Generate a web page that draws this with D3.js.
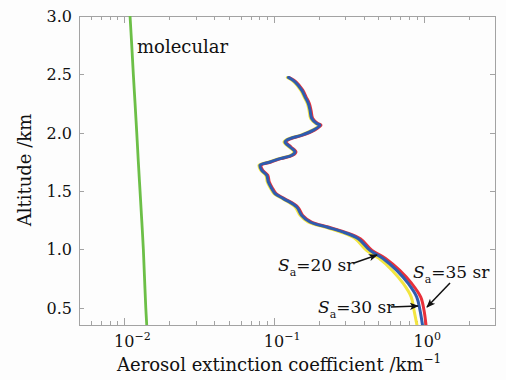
<!DOCTYPE html>
<html>
<head>
<meta charset="utf-8">
<script src="https://cdn.jsdelivr.net/npm/d3@7/dist/d3.min.js"></script>
<style>
  html, body { margin: 0; padding: 0; background: #fdfdfd; }
  svg { display: block; }
  text { font-family: "DejaVu Serif", serif; fill: #111; }
</style>
</head>
<body>
<svg id="chart" width="506" height="380"></svg>
<script>
// Altitude grid (km) shared by the three aerosol retrievals
const altitude = [2.473, 2.436, 2.364, 2.307, 2.250, 2.192, 2.121, 2.078, 2.064, 2.021,
                  1.978, 1.949, 1.920, 1.877, 1.834, 1.806, 1.777, 1.748, 1.720, 1.677,
                  1.634, 1.576, 1.520, 1.477, 1.434, 1.362, 1.290, 1.233, 1.190, 1.147,
                  1.090, 0.990, 0.921, 0.818, 0.704, 0.589, 0.474, 0.345];

// Aerosol extinction coefficient (km^-1) for lidar ratios Sa = 20, 30, 35 sr
const sa20 = [0.1231, 0.1364, 0.1513, 0.1592, 0.1675, 0.1719, 0.1764, 0.1905, 0.2004, 0.1808,
              0.1513, 0.1264, 0.1170, 0.1264, 0.1364, 0.1297, 0.1084, 0.0929, 0.0797, 0.0818,
              0.0884, 0.0905, 0.0953, 0.1004, 0.1140, 0.1389, 0.1501, 0.1692, 0.2189, 0.2802,
              0.3504, 0.4161, 0.5044, 0.6180, 0.7333, 0.8278, 0.8641, 0.9049];
const sa30 = [0.1250, 0.1385, 0.1536, 0.1616, 0.1700, 0.1745, 0.1791, 0.1934, 0.2035, 0.1836,
              0.1536, 0.1283, 0.1188, 0.1283, 0.1385, 0.1317, 0.1100, 0.0943, 0.0809, 0.0830,
              0.0897, 0.0919, 0.0968, 0.1019, 0.1157, 0.1422, 0.1536, 0.1745, 0.2257, 0.2912,
              0.3669, 0.4391, 0.5364, 0.6622, 0.7918, 0.9008, 0.9475, 0.9847];
const sa35 = [0.1269, 0.1406, 0.1560, 0.1641, 0.1726, 0.1772, 0.1819, 0.1964, 0.2067, 0.1864,
              0.1560, 0.1303, 0.1206, 0.1303, 0.1406, 0.1337, 0.1117, 0.0958, 0.0822, 0.0843,
              0.0911, 0.0933, 0.0983, 0.1035, 0.1175, 0.1444, 0.1560, 0.1786, 0.2310, 0.2980,
              0.3783, 0.4527, 0.5574, 0.6933, 0.8356, 0.9579, 1.0076, 1.0391];

// Molecular extinction profile
const molAltitude = [0.35, 0.50, 0.75, 1.00, 1.25, 1.50, 1.75, 2.00, 2.25, 2.50, 2.75, 3.00];
const molExtinction = [0.01417, 0.01396, 0.01370, 0.01345, 0.01312, 0.01278, 0.01245,
                       0.01215, 0.01184, 0.01153, 0.01125, 0.01096];

// Axis ticks
const yTicks = [0.5, 1.0, 1.5, 2.0, 2.5, 3.0];
const xMajorTicks = [0.01, 0.1, 1];
const xMajorExponents = ["−2", "−1", "0"];
const xMinorTicks = [0.005, 0.006, 0.007, 0.008, 0.009,
                     0.02, 0.03, 0.04, 0.05, 0.06, 0.07, 0.08, 0.09,
                     0.2, 0.3, 0.4, 0.5, 0.6, 0.7, 0.8, 0.9, 2, 3];

const seriesList = [
  { name: "Sa20", values: sa20, color: "#f2e540" },
  { name: "Sa35", values: sa35, color: "#e8303a" },
  { name: "Sa30", values: sa30, color: "#2f5cae" }
];

const svg = d3.select("#chart");
const box = { left: 79, right: 495, top: 16, bottom: 325 };

const x = d3.scaleLog().domain([0.005, 3]).range([box.left, box.right]);
const y = d3.scaleLinear().domain([0.35, 3.0]).range([box.bottom, box.top]);

const defs = svg.append("defs");
defs.append("clipPath").attr("id", "plotClip")
  .append("rect").attr("x", box.left).attr("y", box.top)
  .attr("width", box.right - box.left).attr("height", box.bottom - box.top);

defs.append("marker")
  .attr("id", "arrowHead").attr("viewBox", "0 0 10 10")
  .attr("refX", 9).attr("refY", 5)
  .attr("markerWidth", 9).attr("markerHeight", 9)
  .attr("markerUnits", "userSpaceOnUse")
  .attr("orient", "auto")
  .append("path").attr("d", "M0,1 L10,5 L0,9 L2.5,5 Z").attr("fill", "#111");

const frameColor = "#a3a3a3";

// Frame with inward ticks on all four sides
const axisG = svg.append("g");
axisG.append("rect").attr("x", box.left + 0.5).attr("y", box.top + 0.5)
  .attr("width", box.right - box.left).attr("height", box.bottom - box.top)
  .attr("fill", "none").attr("stroke", frameColor).attr("stroke-width", 1);

const tickPath = (x1, y1, x2, y2) =>
  axisG.append("line").attr("x1", x1).attr("y1", y1).attr("x2", x2).attr("y2", y2)
    .attr("stroke", frameColor).attr("stroke-width", 1);

xMinorTicks.forEach(t => {
  const px = Math.round(x(t)) + 0.5;
  tickPath(px, box.bottom, px, box.bottom - 4);
  tickPath(px, box.top, px, box.top + 4);
});
xMajorTicks.forEach(t => {
  const px = Math.round(x(t)) + 0.5;
  tickPath(px, box.bottom, px, box.bottom - 7);
  tickPath(px, box.top, px, box.top + 7);
});
yTicks.forEach(t => {
  const py = Math.round(y(t)) + 0.5;
  tickPath(box.left, py, box.left + 5, py);
  tickPath(box.right, py, box.right - 5, py);
});

// Y tick labels
svg.append("g").selectAll("text").data(yTicks).join("text")
  .attr("x", 72).attr("y", d => y(d) + 6)
  .attr("text-anchor", "end").attr("font-size", 16)
  .text(d3.format(".1f"));

// X tick labels as powers of ten
const xLab = svg.append("g").selectAll("text").data(xMajorTicks).join("text")
  .attr("x", d => x(d) - 10).attr("y", 347)
  .attr("font-size", 16);
xLab.append("tspan").text("10");
xLab.append("tspan").attr("dy", -7).attr("font-size", 11)
  .text((d, i) => xMajorExponents[i]);

// Axis titles
const xTitle = svg.append("text").attr("x", 117).attr("y", 371).attr("font-size", 18);
xTitle.append("tspan").text("Aerosol extinction coefficient /km");
xTitle.append("tspan").attr("dy", -8).attr("font-size", 12).text("−1");

svg.append("text")
  .attr("transform", "translate(31,170) rotate(-90)")
  .attr("text-anchor", "middle").attr("font-size", 18)
  .text("Altitude /km");

// Profiles
const plot = svg.append("g").attr("clip-path", "url(#plotClip)");

const line = d3.line()
  .x(d => x(d.v)).y(d => y(d.h))
  .curve(d3.curveCatmullRom.alpha(0.5));

plot.append("path")
  .datum(molAltitude.map((h, i) => ({ h, v: molExtinction[i] })))
  .attr("d", line).attr("fill", "none")
  .attr("stroke", "#6cbf47").attr("stroke-width", 2.8);

seriesList.forEach(s => {
  plot.append("path")
    .datum(altitude.map((h, i) => ({ h, v: s.values[i] })))
    .attr("d", line).attr("fill", "none")
    .attr("stroke", s.color).attr("stroke-width", 3)
    .attr("stroke-linejoin", "round").attr("stroke-linecap", "round");
});

// Labels
svg.append("text").attr("x", 137).attr("y", 53).attr("font-size", 18).text("molecular");

const annotations = [
  { value: "20", tx: 278, ty: 271, from: [354, 263], to: [377, 255] },
  { value: "30", tx: 318, ty: 313, from: [391, 307], to: [418, 306] },
  { value: "35", tx: 413, ty: 278, from: [450, 283], to: [427, 307] }
];
annotations.forEach(a => {
  const t = svg.append("text").attr("x", a.tx).attr("y", a.ty).attr("font-size", 17);
  t.append("tspan").attr("font-style", "italic").text("S");
  t.append("tspan").attr("dy", 5).attr("font-size", 11).text("a");
  t.append("tspan").attr("dy", -5).text("=" + a.value + " sr");
  svg.append("line")
    .attr("x1", a.from[0]).attr("y1", a.from[1])
    .attr("x2", a.to[0]).attr("y2", a.to[1])
    .attr("stroke", "#111").attr("stroke-width", 1.5)
    .attr("marker-end", "url(#arrowHead)");
});
</script>
</body>
</html>
